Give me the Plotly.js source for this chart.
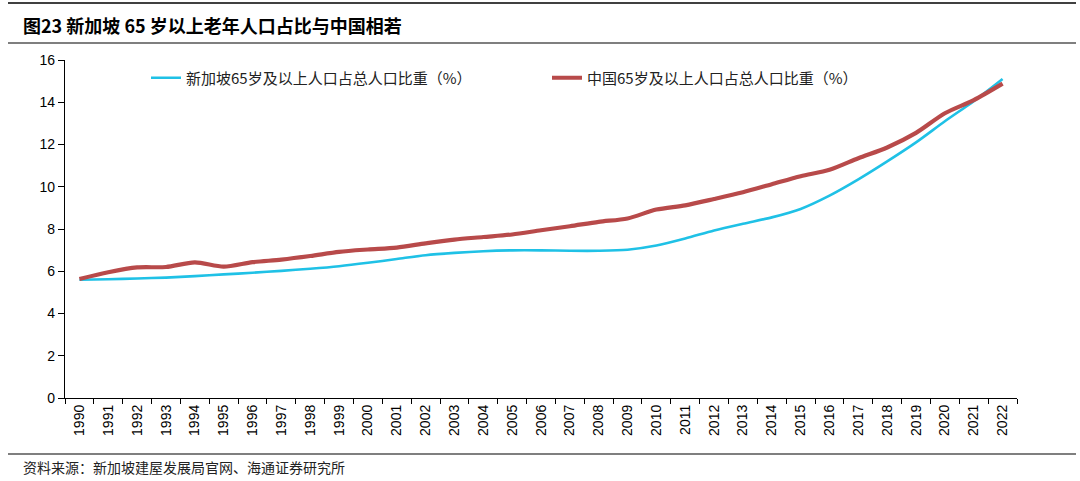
<!DOCTYPE html>
<html>
<head>
<meta charset="utf-8">
<script src="https://cdn.plot.ly/plotly-3.0.1.min.js"></script>
<style>
html,body{margin:0;padding:0;background:#fff;}
#chart{width:1080px;height:481px;}
</style>
</head>
<body>
<div id="chart"></div>
<script>
const years = ["1990","1991","1992","1993","1994","1995","1996","1997","1998","1999","2000","2001","2002","2003","2004","2005","2006","2007","2008","2009","2010","2011","2012","2013","2014","2015","2016","2017","2018","2019","2020","2021","2022"];
const singapore = [5.6,5.62,5.66,5.7,5.77,5.85,5.93,6.02,6.12,6.24,6.4,6.58,6.76,6.87,6.95,6.99,6.99,6.97,6.97,7.02,7.22,7.55,7.93,8.25,8.55,8.95,9.58,10.35,11.2,12.1,13.1,14.05,15.1];
const china = [5.63,5.95,6.18,6.2,6.42,6.22,6.43,6.55,6.72,6.92,7.03,7.12,7.32,7.5,7.62,7.74,7.94,8.13,8.34,8.5,8.92,9.12,9.42,9.74,10.12,10.5,10.8,11.35,11.86,12.55,13.48,14.1,14.88];
const seriesNames = ["新加坡65岁及以上人口占总人口比重（%）","中国65岁及以上人口占总人口比重（%）"];
const titleText = "图23 新加坡 65 岁以上老年人口占比与中国相若";
const sourceText = "资料来源：新加坡建屋发展局官网、海通证券研究所";

const L = 65, R = 1017, T = 60, B = 398;
const W = R - L, H = B - T;
const px = x => (x - L) / W;
const py = y => (B - y) / H;

const cjk = '"Noto Sans CJK SC", "Liberation Sans", sans-serif';

const traces = [
  {x: years, y: singapore, name: seriesNames[0], type: 'scatter', mode: 'lines',
   line: {color: '#1fc1e6', width: 2.6, shape: 'spline', smoothing: 0.8}},
  {x: years, y: china, name: seriesNames[1], type: 'scatter', mode: 'lines',
   line: {color: '#b84a4a', width: 4.2, shape: 'spline', smoothing: 0.8}}
];

const layout = {
  width: 1080, height: 481,
  margin: {l: L, r: 1080 - R, t: T, b: 481 - B, pad: 0},
  paper_bgcolor: '#fff', plot_bgcolor: '#fff',
  showlegend: true,
  legend: {
    orientation: 'h', x: px(146), y: py(78), xanchor: 'left', yanchor: 'middle',
    entrywidth: 356, entrywidthmode: 'pixels',
    font: {family: cjk, size: 15, color: '#222'},
    bgcolor: 'rgba(0,0,0,0)', itemwidth: 30
  },
  xaxis: {
    type: 'category', tickson: 'boundaries', range: [-0.5, 32.5],
    showline: true, linecolor: '#000', linewidth: 1.2,
    ticks: 'outside', ticklen: 5, tickcolor: '#000', tickwidth: 1,
    tickangle: -90, showgrid: false, zeroline: false,
    tickfont: {family: '"Liberation Sans", Arial, sans-serif', size: 14, color: '#000'},
    fixedrange: true
  },
  yaxis: {
    range: [0, 16], dtick: 2, tick0: 0,
    showline: true, linecolor: '#000', linewidth: 1.2,
    ticks: 'outside', ticklen: 6, tickcolor: '#000', tickwidth: 1,
    showgrid: false, zeroline: false,
    tickfont: {family: '"Liberation Sans", Arial, sans-serif', size: 14, color: '#000'},
    fixedrange: true
  },
  shapes: [
    {type: 'line', xref: 'paper', yref: 'paper', x0: px(8), x1: px(1076), y0: py(3), y1: py(3), line: {color: '#000', width: 1.5}},
    {type: 'line', xref: 'paper', yref: 'paper', x0: px(8), x1: px(1076), y0: py(43), y1: py(43), line: {color: '#000', width: 1.2}},
    {type: 'line', xref: 'paper', yref: 'paper', x0: px(8), x1: px(1076), y0: py(454), y1: py(454), line: {color: '#000', width: 1.2}}
  ],
  annotations: [
    {text: '<b>' + titleText + '</b>', xref: 'paper', yref: 'paper', x: px(21), y: py(25),
     xanchor: 'left', yanchor: 'middle', showarrow: false,
     font: {family: cjk, size: 18, color: '#000'}},
    {text: sourceText, xref: 'paper', yref: 'paper', x: px(21), y: py(467),
     xanchor: 'left', yanchor: 'middle', showarrow: false,
     font: {family: cjk, size: 14, color: '#222'}}
  ]
};

Plotly.newPlot('chart', traces, layout, {displayModeBar: false, staticPlot: true});
</script>
</body>
</html>
